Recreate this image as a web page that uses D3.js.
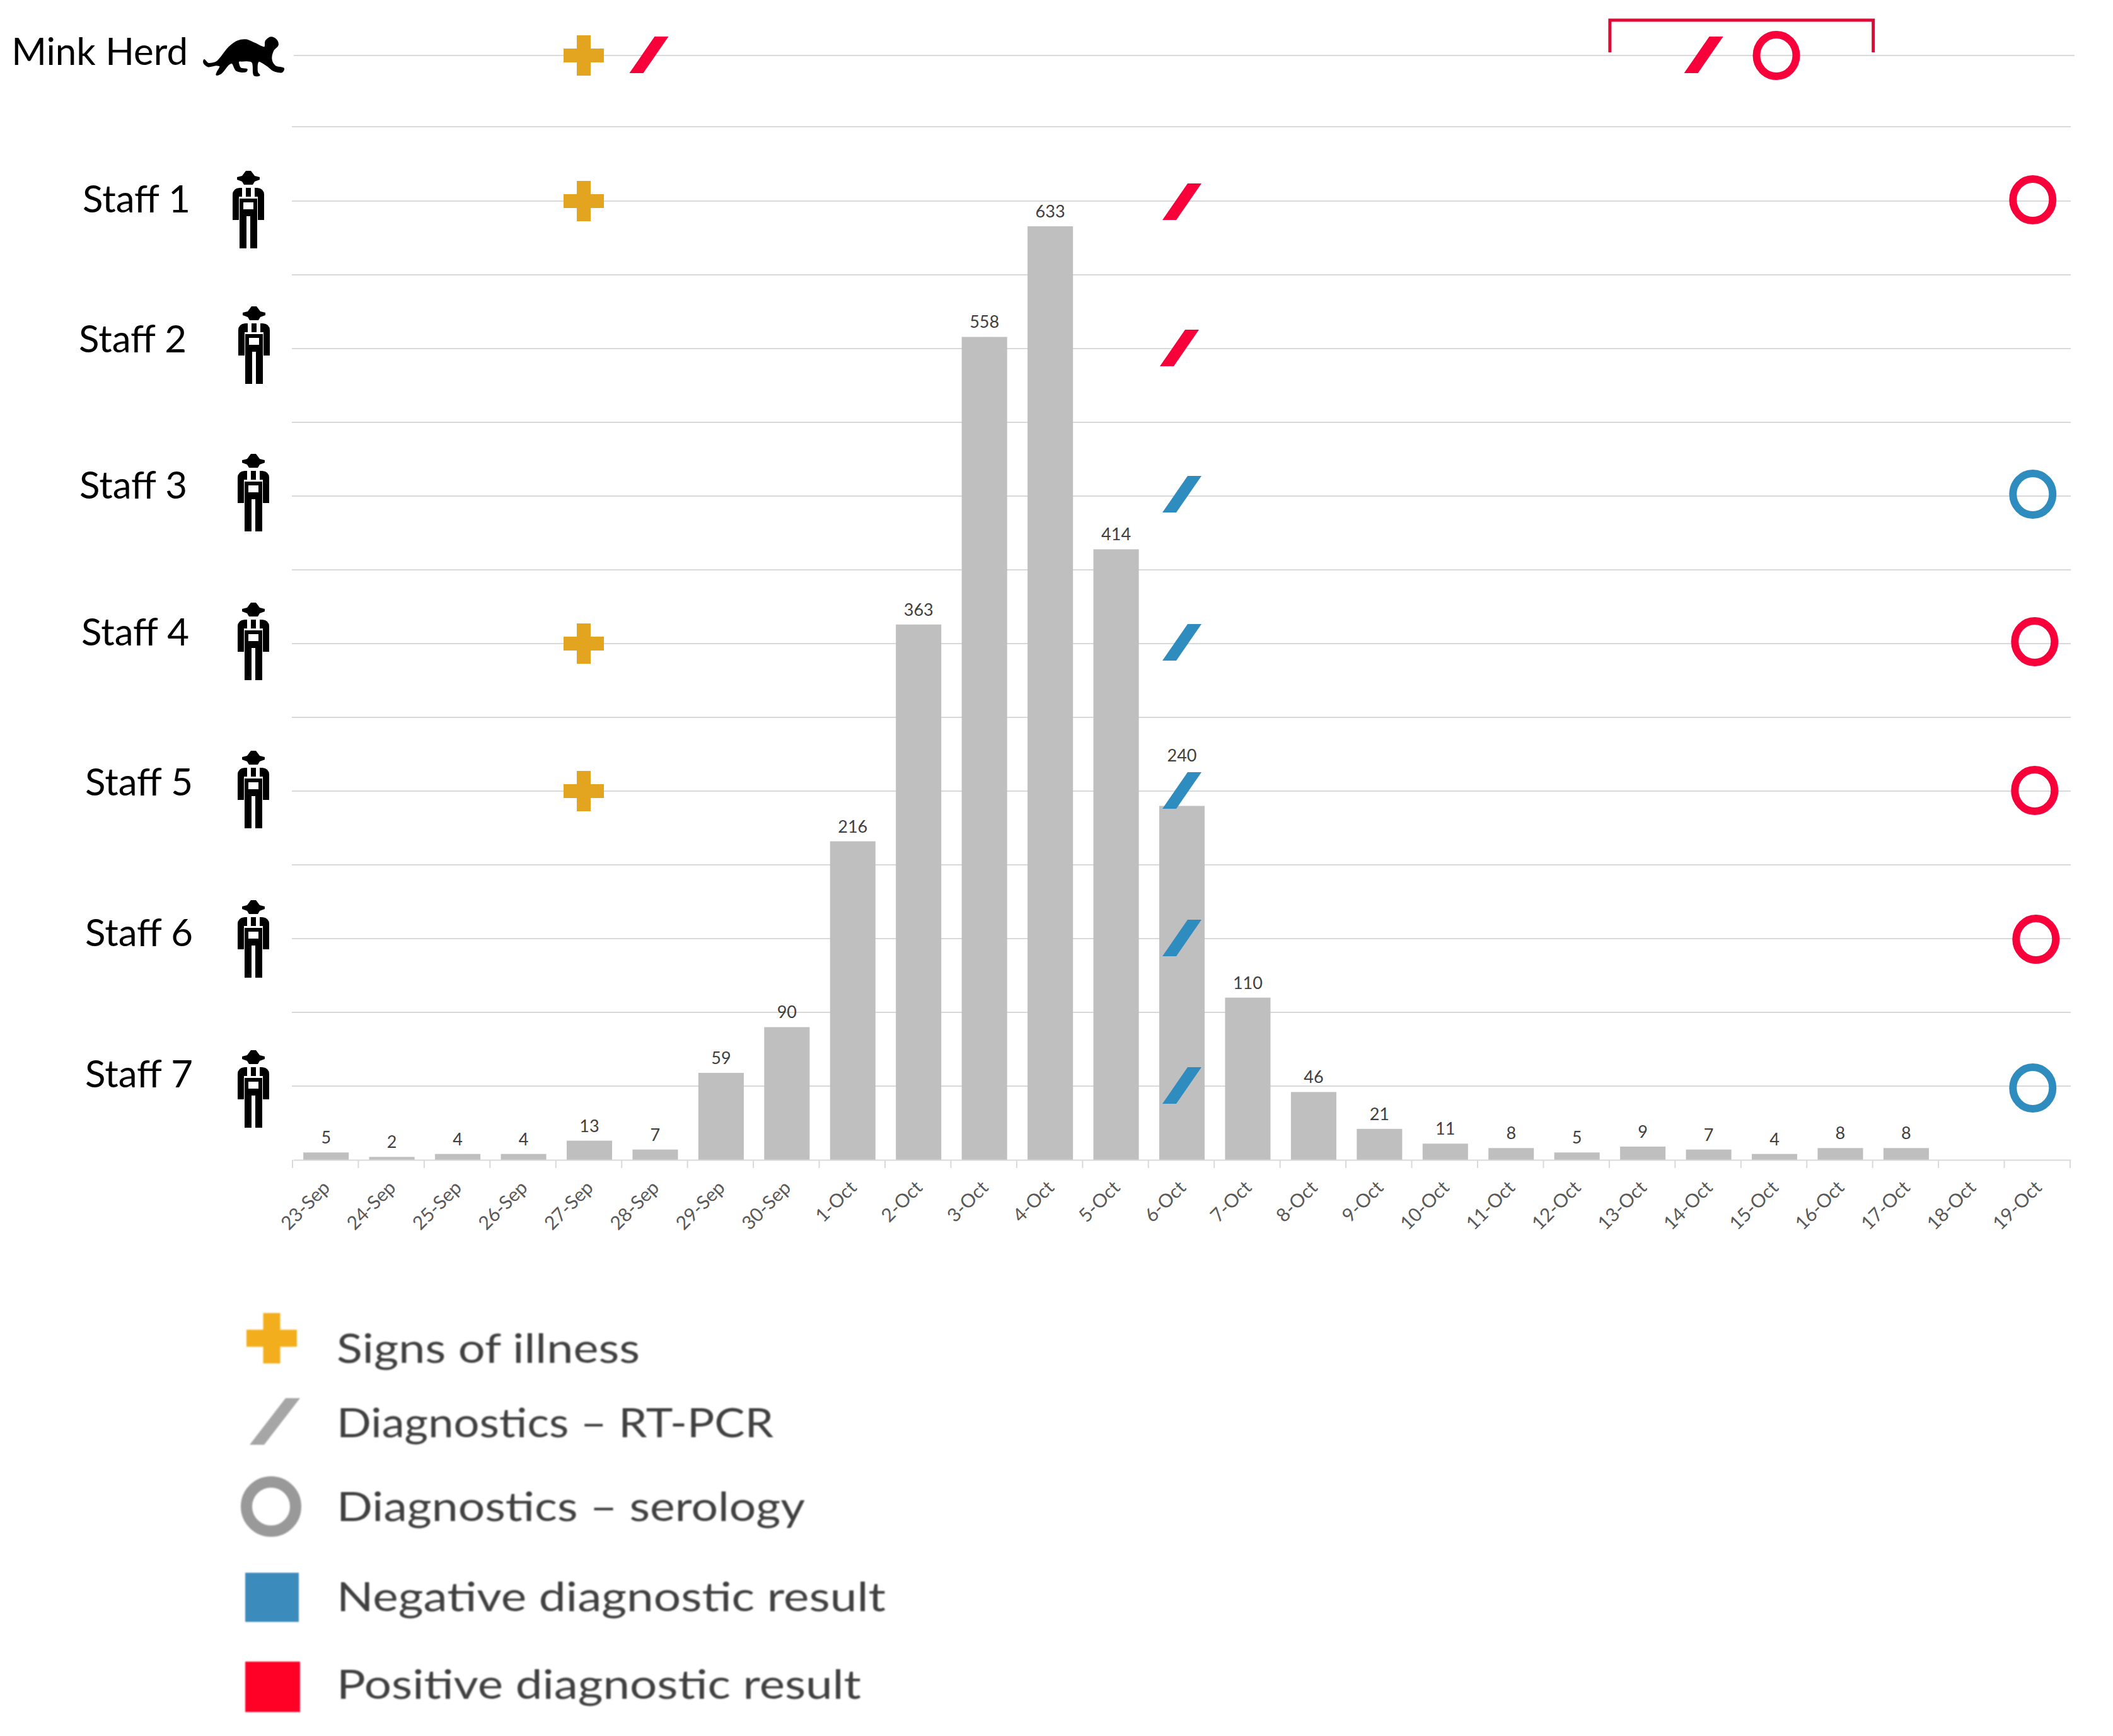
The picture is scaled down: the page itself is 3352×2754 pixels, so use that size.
<!DOCTYPE html>
<html>
<head>
<meta charset="utf-8">
<script src="https://cdn.jsdelivr.net/npm/d3@7"></script>
<style>
  html, body { margin: 0; padding: 0; background: #fff; }
  svg { display: block; }
  text { font-family: Lato, "Open Sans", sans-serif; }
</style>
</head>
<body>
<svg id="chart"></svg>
<script>
// данные графика
const days = ["23-Sep", "24-Sep", "25-Sep", "26-Sep", "27-Sep", "28-Sep", "29-Sep", "30-Sep",
  "1-Oct", "2-Oct", "3-Oct", "4-Oct", "5-Oct", "6-Oct", "7-Oct", "8-Oct", "9-Oct", "10-Oct",
  "11-Oct", "12-Oct", "13-Oct", "14-Oct", "15-Oct", "16-Oct", "17-Oct", "18-Oct", "19-Oct"];
const cases = [5, 2, 4, 4, 13, 7, 59, 90, 216, 363, 558, 633, 414, 240, 110, 46, 21, 11, 8, 5, 9, 7, 4, 8, 8, null, null];
const rows = ["Mink Herd", "Staff 1", "Staff 2", "Staff 3", "Staff 4", "Staff 5", "Staff 6", "Staff 7"];

const illness = [["Mink Herd", "27-Sep"], ["Staff 1", "27-Sep"], ["Staff 4", "27-Sep"], ["Staff 5", "27-Sep"]];
const pcr = [
  ["Mink Herd", "28-Sep", "pos"], ["Mink Herd", "14-Oct", "pos"], ["Staff 1", "6-Oct", "pos"], ["Staff 2", "6-Oct", "pos"],
  ["Staff 3", "6-Oct", "neg"], ["Staff 4", "6-Oct", "neg"], ["Staff 5", "6-Oct", "neg"], ["Staff 6", "6-Oct", "neg"], ["Staff 7", "6-Oct", "neg"]
];
const serology = [
  ["Mink Herd", "15-Oct", "pos"], ["Staff 1", "19-Oct", "pos"], ["Staff 3", "19-Oct", "neg"], ["Staff 4", "19-Oct", "pos"],
  ["Staff 5", "19-Oct", "pos"], ["Staff 6", "19-Oct", "pos"], ["Staff 7", "19-Oct", "neg"]
];
const herdWindow = ["13-Oct", "16-Oct"];
const legendLabels = ["Signs of illness", "Diagnostics \u2013 RT-PCR", "Diagnostics \u2013 serology",
  "Negative diagnostic result", "Positive diagnostic result"];

// ручные сдвиги значков (в оригинале они расставлены от руки)
const nudgeDay = { "27-Sep": -9, "28-Sep": -10, "14-Oct": -8, "15-Oct": 3, "19-Oct": -8 };
const serologyDx = [0, 0, 0, 0, 3, 3, 5, 0];
const serologyDy = [0, -2, 0, -3, -3, -1, 1, 3];
const pcrDy = [-1, 1, -1, -3, -2, -1, -1, -1];
// подписи и значки строк
const labelRight = [298, 302, 296, 297, 300, 306, 306, 306];
const labelBase = [103, 337, 559, 791, 1024, 1262, 1501, 1725];
const iconX = [0, 394, 403, 402, 402, 402, 402, 402];
const iconTop = [0, 271, 486, 720, 956, 1191, 1428, 1666];
// подписи легенды растянуты в оригинале
const legendY = [2162, 2280, 2413, 2556, 2695];
const legendLen = [481, 693, 743, 871, 832];

const colors = { pos: "#F8003A", neg: "#2F8CBF", illness: "#E3A51F", bar: "#BFBFBF", grid: "#D9D9D9" };

let width = 3352;
let height = 2754;
let svg = d3.select("#chart").attr("width", width).attr("height", height);

let defs = svg.append("defs");
defs.append("filter")
  .attr("id", "soft")
  .append("feGaussianBlur")
  .attr("stdDeviation", 1);

let baseY = 1840;
let scaleX = d3.scaleBand().domain(days).range([465, 3285]).paddingInner(0.31).paddingOuter(0.155);
let scaleY = d3.scaleLinear().domain([0, 633]).range([baseY, 359]);
let step = scaleX.step();
// строки: половинки индекса - промежуточные линии сетки
let rowY = d3.scaleLinear().domain([0, 0.5, 1, 7]).range([88, 201, 319, 1723]);
let centerX = (d) => scaleX(d) + scaleX.bandwidth() / 2 + (nudgeDay[d] || 0);
let row = (name) => rows.indexOf(name);

// сетка
let gridIdx = d3.range(0, 7.5, 0.5);
svg.append("g")
  .selectAll("line")
  .data(gridIdx)
  .enter()
  .append("line")
  .attr("x1", (d) => (d === 0 ? 466 : 463))
  .attr("x2", (d) => (d === 0 ? 3291 : 3285))
  .attr("y1", (d) => rowY(d))
  .attr("y2", (d) => rowY(d))
  .attr("stroke", colors.grid)
  .attr("stroke-width", 2);

// столбцы
let barData = days.map((d, i) => ({ day: d, value: cases[i] })).filter((d) => d.value !== null);
svg.append("g")
  .selectAll("rect")
  .data(barData)
  .enter()
  .append("rect")
  .attr("x", (d) => scaleX(d.day))
  .attr("y", (d) => scaleY(d.value))
  .attr("width", scaleX.bandwidth())
  .attr("height", (d) => baseY - scaleY(d.value))
  .attr("fill", colors.bar);

svg.append("g")
  .selectAll("text")
  .data(barData)
  .enter()
  .append("text")
  .attr("x", (d) => scaleX(d.day) + scaleX.bandwidth() / 2)
  .attr("y", (d) => scaleY(d.value) - (d.value === 240 ? 70 : 14))
  .attr("text-anchor", "middle")
  .attr("font-size", 27)
  .attr("fill", "#404040")
  .text((d) => d.value);

// ось OX: подписи из axisBottom, засечки на границах дней
let axisX = d3.axisBottom(scaleX).tickSize(0).tickPadding(0);
let gx = svg.append("g").attr("transform", `translate(0, ${baseY})`).call(axisX);
gx.select(".domain").attr("stroke", colors.grid).attr("stroke-width", 2);
gx.selectAll(".tick text")
  .attr("font-family", "Lato")
  .attr("font-size", 30)
  .attr("fill", "#595959")
  .style("text-anchor", "end")
  .attr("dx", 0)
  .attr("dy", 0)
  .attr("y", 0)
  .attr("transform", "translate(8, 46) rotate(-45)");
svg.append("g")
  .selectAll("line")
  .data(d3.range(days.length + 1))
  .enter()
  .append("line")
  .attr("x1", (d) => scaleX.range()[0] - 1 + d * step)
  .attr("x2", (d) => scaleX.range()[0] - 1 + d * step)
  .attr("y1", baseY)
  .attr("y2", baseY + 13)
  .attr("stroke", colors.grid)
  .attr("stroke-width", 2);

// значки
function plusPath(s, t) {
  return `M${-t / 2},${-s}H${t / 2}V${-t / 2}H${s}V${t / 2}H${t / 2}V${s}H${-t / 2}V${t / 2}H${-s}V${-t / 2}H${-t / 2}Z`;
}
function slashPath(w, h, t) {
  return `M${w - t},${-h}H${w}L${t - w},${h}H${-w}Z`;
}

svg.append("g")
  .selectAll("path")
  .data(illness)
  .enter()
  .append("path")
  .attr("d", plusPath(32, 22))
  .attr("transform", (d) => `translate(${centerX(d[1])}, ${rowY(row(d[0]))})`)
  .attr("fill", colors.illness);

svg.append("g")
  .selectAll("path")
  .data(pcr)
  .enter()
  .append("path")
  .attr("d", slashPath(31, 29, 22))
  .attr("transform", (d) => `translate(${centerX(d[1]) + (d[0] === "Staff 2" ? -4 : 0)}, ${rowY(row(d[0])) + pcrDy[row(d[0])]})`)
  .attr("fill", (d) => colors[d[2]]);

svg.append("g")
  .selectAll("ellipse")
  .data(serology)
  .enter()
  .append("ellipse")
  .attr("cx", (d) => centerX(d[1]) + serologyDx[row(d[0])])
  .attr("cy", (d) => rowY(row(d[0])) + serologyDy[row(d[0])])
  .attr("rx", 31.5)
  .attr("ry", 33)
  .attr("fill", "none")
  .attr("stroke", (d) => colors[d[2]])
  .attr("stroke-width", 12);

// скобка над стадом
let bx0 = scaleX(herdWindow[0]) - scaleX.step() * scaleX.paddingInner() / 2;
let bx1 = scaleX(herdWindow[1]) + scaleX.bandwidth() + scaleX.step() * scaleX.paddingInner() / 2;
svg.append("path")
  .attr("d", `M${bx0},83V32H${bx1}V83`)
  .attr("fill", "none")
  .attr("stroke", "#DC0A35")
  .attr("stroke-width", 5);

// подписи строк
svg.append("g")
  .selectAll("text")
  .data(rows)
  .enter()
  .append("text")
  .attr("x", (d, i) => labelRight[i])
  .attr("y", (d, i) => labelBase[i])
  .attr("text-anchor", "end")
  .attr("font-size", 60)
  .attr("fill", "#000")
  .text((d) => d);

// фигурка сотрудника
let personPath = "M-4,0H4L10,8L18,10V14L10,17L7,22H-7L-10,17L-18,14V10L-10,8Z" +
  "M-25,38Q-25,28 -14,27H-10V41H-15V78H-25Z" +
  "M25,38Q25,28 14,27H10V41H15V78H25Z" +
  "M-4,27H4V41H-4Z" +
  "M-14,44H14V123H3V72H-3V123H-14ZM-8,50V61H8V50Z";
svg.append("g")
  .selectAll("path")
  .data(rows.slice(1))
  .enter()
  .append("path")
  .attr("d", personPath)
  .attr("fill-rule", "evenodd")
  .attr("transform", (d, i) => `translate(${iconX[i + 1]}, ${iconTop[i + 1]})`)
  .attr("fill", "#000");

// норка
let minkShape = [[42, 165], [60, 182], [100, 175], [120, 155], [160, 105], [200, 76], [240, 70], [280, 85], [330, 105],
  [335, 75], [360, 58], [385, 70], [392, 95], [370, 120], [362, 165], [380, 195], [420, 206], [412, 222], [370, 215],
  [345, 195], [300, 172], [295, 225], [305, 238], [280, 238], [270, 175], [220, 170], [205, 172], [215, 205], [245, 210],
  [240, 220], [195, 215], [175, 180], [160, 185], [120, 230], [100, 236], [105, 222], [118, 195], [100, 190], [60, 196], [40, 178]];
svg.append("path")
  .attr("d", d3.line().curve(d3.curveCatmullRomClosed)(minkShape))
  .attr("transform", "translate(310, 40) scale(0.3333)")
  .attr("fill", "#000")
  .attr("stroke", "#000")
  .attr("stroke-width", 6);

// легенда
let legend = svg.append("g").attr("filter", "url(#soft)");
legend.selectAll("text")
  .data(legendLabels)
  .enter()
  .append("text")
  .attr("x", 534)
  .attr("y", (d, i) => legendY[i])
  .attr("font-size", 64)
  .attr("textLength", (d, i) => legendLen[i])
  .attr("lengthAdjust", "spacingAndGlyphs")
  .attr("fill", "#404040")
  .text((d) => d);

legend.append("path").attr("d", plusPath(40, 27)).attr("transform", "translate(431, 2123)").attr("fill", "#F2AE1C");
legend.append("path").attr("d", slashPath(40, 37, 23)).attr("transform", "translate(436, 2255)").attr("fill", "#A6A6A6");
legend.append("ellipse").attr("cx", 430).attr("cy", 2390).attr("rx", 39).attr("ry", 39)
  .attr("fill", "none").attr("stroke", "#999999").attr("stroke-width", 18);
legend.append("rect").attr("x", 389).attr("y", 2495).attr("width", 85).attr("height", 78).attr("fill", "#3A8BBD");
legend.append("rect").attr("x", 389).attr("y", 2636).attr("width", 87).attr("height", 80).attr("fill", "#FF0028");
</script>
</body>
</html>
